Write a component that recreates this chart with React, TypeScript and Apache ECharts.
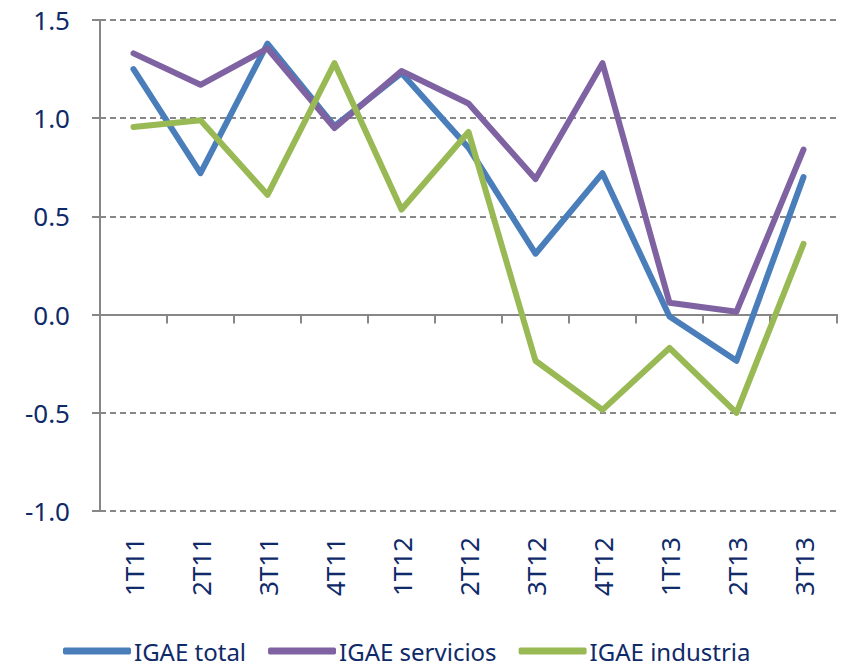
import React, { useEffect, useRef } from "react";
import * as echarts from "echarts";

const categories = ["1T11", "2T11", "3T11", "4T11", "1T12", "2T12", "3T12", "4T12", "1T13", "2T13", "3T13"];
const igaeTotal = [1.25, 0.72, 1.38, 0.96, 1.23, 0.85, 0.31, 0.72, -0.01, -0.235, 0.70];
const igaeServicios = [1.33, 1.17, 1.355, 0.95, 1.24, 1.075, 0.69, 1.28, 0.06, 0.015, 0.84];
const igaeIndustria = [0.955, 0.99, 0.61, 1.28, 0.535, 0.93, -0.235, -0.485, -0.17, -0.5, 0.36];
const yTicks = { min: -1, max: 1.5, interval: 0.5 };

const FONT = "Noto Sans";
const TEXT = "#0f2a68";
const AXIS = "#878787";

export default function App() {
  const ref = useRef<HTMLDivElement>(null);
  useEffect(() => {
    if (!ref.current) return;
    const chart = echarts.init(ref.current, null, { renderer: "svg" });
    const mk = (name: string, data: number[], color: string) => ({
      name,
      type: "line",
      data,
      xAxisIndex: 0,
      symbol: "none",
      lineStyle: { color, width: 6, cap: "round", join: "round" },
      itemStyle: { color },
    });
    chart.setOption({
      animation: false,
      grid: { left: 100, right: 5, top: 20, bottom: 156, containLabel: false },
      legend: {
        left: 58,
        top: 634,
        itemWidth: 68,
        itemHeight: 7,
        itemGap: 22,
        icon: "roundRect",
        textStyle: { fontFamily: FONT, fontSize: 24, color: TEXT, padding: [0, 0, 0, -2] },
        data: ["IGAE total", "IGAE servicios", "IGAE industria"],
      },
      xAxis: [
        {
          type: "category",
          data: categories,
          position: "bottom",
          boundaryGap: true,
          axisLine: { show: false, onZero: false },
          axisTick: { show: false },
          axisLabel: {
            rotate: 90,
            margin: 26,
            fontFamily: FONT,
            fontSize: 26,
            color: TEXT,
            interval: 0,
          },
          splitLine: { show: false },
        },
        {
          type: "category",
          data: categories,
          position: "top",
          boundaryGap: true,
          axisLine: { show: true, onZero: true, lineStyle: { color: AXIS, width: 2 } },
          axisTick: { show: true, inside: true, length: 9, interval: 0, lineStyle: { color: AXIS, width: 2 } },
          axisLabel: { show: false },
          splitLine: { show: false },
        },
      ],
      yAxis: {
        type: "value",
        min: yTicks.min,
        max: yTicks.max,
        interval: yTicks.interval,
        axisLine: { show: true, lineStyle: { color: AXIS, width: 2 } },
        axisTick: { show: true, length: 8, lineStyle: { color: AXIS, width: 2 } },
        axisLabel: {
          margin: 30,
          fontFamily: FONT,
          fontSize: 26,
          color: TEXT,
          formatter: (v: number) => v.toFixed(1),
        },
        splitLine: { show: true, lineStyle: { color: AXIS, width: 2, type: [6, 4] } },
      },
      series: [
        mk("IGAE total", igaeTotal, "#4a7ebb"),
        mk("IGAE servicios", igaeServicios, "#7f62a1"),
        mk("IGAE industria", igaeIndustria, "#98b954"),
      ],
    });
    return () => chart.dispose();
  }, []);
  return <div ref={ref} style={{ width: 842, height: 667, position: "absolute", left: 0, top: 0 }} />;
}
